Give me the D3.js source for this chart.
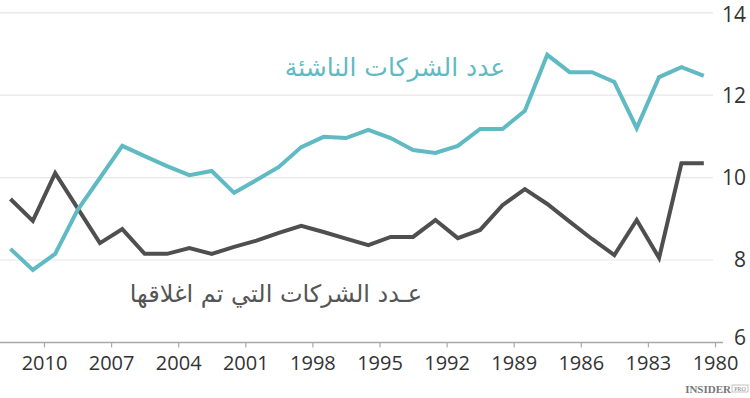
<!DOCTYPE html>
<html><head><meta charset="utf-8">
<script src="https://cdn.jsdelivr.net/npm/d3@7"></script>
<style>
html,body{margin:0;padding:0;background:#fff;}
svg{display:block;}
</style></head>
<body>
<script>
// Data (years run right-to-left)
const years = [2011,2010,2009,2008,2007,2006,2005,2004,2003,2002,2001,2000,1999,1998,1997,1996,1995,1994,1993,1992,1991,1990,1989,1988,1987,1986,1985,1984,1983,1982,1981,1980];
const startups = [8.27,7.76,8.15,9.21,9.99,10.77,10.52,10.28,10.06,10.16,9.63,9.94,10.26,10.74,10.99,10.96,11.16,10.96,10.67,10.60,10.77,11.18,11.18,11.62,12.98,12.56,12.56,12.32,11.20,12.44,12.68,12.47];
const closures = [9.48,8.95,10.11,9.26,8.41,8.75,8.15,8.15,8.29,8.15,8.32,8.47,8.66,8.83,8.68,8.52,8.36,8.56,8.56,8.97,8.53,8.73,9.33,9.72,9.36,8.93,8.51,8.12,8.97,8.05,10.35,10.35];
const xTicks = [2010,2007,2004,2001,1998,1995,1992,1989,1986,1983,1980];
const yTicks = [6,8,10,12,14];
const labelStartups = "عدد الشركات الناشئة";
const labelClosures = "عـدد الشركات التي تم اغلاقها";

const W = 750, H = 398;
const svg = d3.select("body").append("svg").attr("width", W).attr("height", H);

const x = d3.scaleLinear().domain([2010, 1980]).range([44, 715]);
const y = d3.scaleLinear().domain([6, 14]).range([342.4, 12.8]);

// gridlines
svg.append("g").selectAll("line").data(yTicks.filter(v => v > 6)).join("line")
  .attr("x1", 0).attr("x2", 713)
  .attr("y1", d => y(d)).attr("y2", d => y(d))
  .attr("stroke", "#e6e6e6").attr("stroke-width", 1.2);

// x axis
const xAxis = d3.axisBottom(x).tickValues(xTicks).tickFormat(d3.format("d")).tickSize(5).tickPadding(8);
const gx = svg.append("g").attr("transform", `translate(0,${y(6)})`).call(xAxis);
gx.select(".domain").remove();
gx.insert("line", ":first-child").attr("x1", 0).attr("x2", 723).attr("y1", 0).attr("y2", 0)
  .attr("stroke", "#a8a8a8").attr("stroke-width", 1.5);
gx.selectAll(".tick line").attr("stroke", "#a8a8a8").attr("stroke-width", 1.2);
gx.selectAll(".tick text").attr("fill", "#333").style("font-family", "'Open Sans', sans-serif").style("font-size", "20px");

// y labels (right)
svg.append("g").selectAll("text").data(yTicks).join("text")
  .attr("x", 746)
  .attr("y", d => y(d) + (d === 6 ? -5 : d === 14 ? 2 : 0))
  .attr("dy", "0.35em")
  .attr("text-anchor", "end")
  .attr("fill", "#333")
  .style("font-family", "'Open Sans', sans-serif").style("font-size", "21px")
  .text(d => d);

const line = d3.line().x((d, i) => x(years[i] + 0.5)).y(d => y(d)).curve(d3.curveLinear);

svg.append("path").datum(closures).attr("d", line)
  .attr("fill", "none").attr("stroke", "#4f4f4f").attr("stroke-width", 4).attr("stroke-linejoin", "miter");
svg.append("path").datum(startups).attr("d", line)
  .attr("fill", "none").attr("stroke", "#5fbac3").attr("stroke-width", 4).attr("stroke-linejoin", "miter");

// labels
svg.append("text").attr("x", 395).attr("y", 76).attr("text-anchor", "middle")
  .attr("direction", "rtl")
  .attr("fill", "#5fbac3").style("font-family", "'DejaVu Sans', sans-serif").style("font-size", "25px")
  .text(labelStartups);
svg.append("text").attr("x", 276).attr("y", 302).attr("text-anchor", "middle")
  .attr("direction", "rtl")
  .attr("fill", "#555").style("font-family", "'DejaVu Sans', sans-serif").style("font-size", "24px")
  .text(labelClosures);

// brand
svg.append("text").attr("x", 731).attr("y", 393).attr("text-anchor", "end")
  .attr("fill", "#777").style("font-family", "'Liberation Serif', serif").style("font-size", "11px").style("font-weight", "bold")
  .text("INSIDER");
svg.append("rect").attr("x", 732).attr("y", 385).attr("width", 16).attr("height", 7)
  .attr("fill", "none").attr("stroke", "#999").attr("stroke-width", 0.6);
svg.append("text").attr("x", 740).attr("y", 391).attr("text-anchor", "middle")
  .attr("fill", "#888").style("font-family", "'Liberation Serif', serif").style("font-size", "6px")
  .text("PRO");
</script>
</body></html>
